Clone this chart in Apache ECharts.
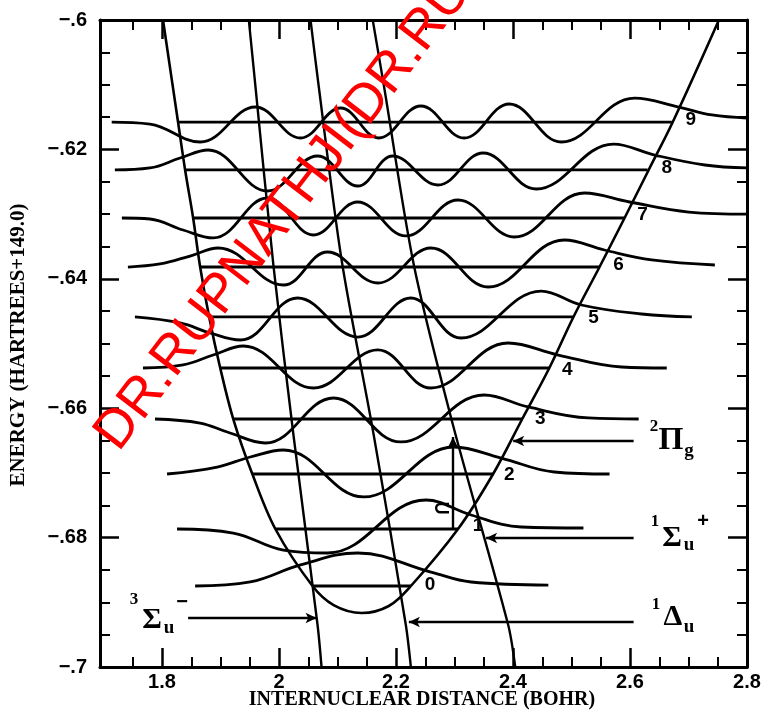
<!DOCTYPE html>
<html><head><meta charset="utf-8">
<script src="https://cdn.jsdelivr.net/npm/echarts@6/dist/echarts.min.js"></script>
<style>html,body{margin:0;padding:0;background:#fff}#c{width:769px;height:721px}</style>
</head><body><div id="c"></div>
<script>
// ---- axis ticks ----
const xTickValues = [1.8, 2.0, 2.2, 2.4, 2.6, 2.8];
const xTickLabels = ['1.8', '2', '2.2', '2.4', '2.6', '2.8'];
const xMinorTicks = [1.75, 1.85, 1.9, 1.95, 2.05, 2.1, 2.15, 2.25, 2.3, 2.35, 2.45, 2.5, 2.55, 2.65, 2.7, 2.75];
const yTickValues = [-0.7, -0.68, -0.66, -0.64, -0.62, -0.6];
const yTickLabels = ['\u2212.7', '\u2212.68', '\u2212.66', '\u2212.64', '\u2212.62', '\u2212.6'];

// ---- vibrational levels v = 0..9 ----
const levelNumbers = ['0', '1', '2', '3', '4', '5', '6', '7', '8', '9'];
const levelEnergy = [-0.68748, -0.67867, -0.67017, -0.66167, -0.65379, -0.64590, -0.63818, -0.63060, -0.62318, -0.61577];
const levelLeftX  = [2.0573, 1.9938, 1.9544, 1.9218, 1.8995, 1.8806, 1.8652, 1.8532, 1.8395, 1.8274];
const levelRightX = [2.2254, 2.3060, 2.3660, 2.4158, 2.4621, 2.5033, 2.5479, 2.5907, 2.6302, 2.6714];
const levelLabelX = [2.2580, 2.3403, 2.3935, 2.4467, 2.4930, 2.5376, 2.5804, 2.6216, 2.6628, 2.7040];
const levelLabelY = [-0.68733, -0.67821, -0.67032, -0.66167, -0.65410, -0.64606, -0.63787, -0.63014, -0.62287, -0.61546];

// ---- potential curve (2Pi_g) ----
const potentialX = [1.8017, 1.8274, 1.8395, 1.8532, 1.8652, 1.8806, 1.8995, 1.9218, 1.9544, 1.9938, 2.0573, 2.0933, 2.1413, 2.1877, 2.2254, 2.3060, 2.3660, 2.4158, 2.4621, 2.5033, 2.5479, 2.5907, 2.6319, 2.6731, 2.7520];
const potentialY = [-0.6, -0.61577, -0.62318, -0.63060, -0.63818, -0.64590, -0.65379, -0.66167, -0.67017, -0.67867, -0.68748, -0.69042, -0.69165, -0.69057, -0.68748, -0.67867, -0.67017, -0.66167, -0.65379, -0.64590, -0.63818, -0.63060, -0.62318, -0.61577, -0.6];

// ---- crossing states ----
const sigma3uX = [1.9484, 1.9595, 1.9904, 2.0247, 2.0659, 2.0727];
const sigma3uY = [-0.6, -0.61005, -0.63787, -0.66414, -0.69351, -0.7];
const delta1uX = [2.0539, 2.0676, 2.1070, 2.1619, 2.2168, 2.2254];
const delta1uY = [-0.6, -0.61005, -0.63709, -0.66414, -0.69351, -0.7];
const sigma1uX = [2.1602, 2.1791, 2.2305, 2.2974, 2.3918, 2.4038];
const sigma1uY = [-0.6, -0.61005, -0.63787, -0.66260, -0.69351, -0.7];

// ---- vibrational wavefunctions [x, energy]: tails and extrema ----
const wave0 = [[1.8566,-0.68748],[1.9509,-0.68686],[2.0367,-0.68423],[2.1345,-0.68238],[2.2597,-0.68532],[2.3283,-0.68686],[2.4604,-0.68733]];
const wave1 = [[1.8257,-0.67867],[1.9218,-0.67929],[2.0075,-0.68192],[2.0830,-0.68238],[2.2511,-0.67419],[2.3283,-0.67651],[2.4141,-0.67836],[2.5204,-0.67852]];
const wave2 = [[1.8086,-0.67017],[1.8943,-0.66909],[1.9509,-0.66754],[2.0075,-0.66646],[2.1448,-0.67372],[2.2991,-0.66600],[2.3798,-0.66770],[2.4707,-0.66986],[2.5650,-0.67017]];
const wave3 = [[1.7880,-0.66167],[1.8652,-0.66229],[1.9115,-0.66368],[1.9767,-0.66538],[2.0933,-0.65842],[2.2082,-0.66522],[2.3506,-0.65796],[2.4261,-0.65981],[2.5290,-0.66151],[2.6148,-0.66167]];
const wave4 = [[1.7674,-0.65379],[1.8360,-0.65332],[1.8875,-0.65178],[1.9389,-0.65039],[2.0590,-0.65688],[2.1688,-0.65100],[2.2597,-0.65688],[2.3918,-0.64992],[2.4775,-0.65178],[2.5856,-0.65363],[2.6628,-0.65379]];
const wave5 = [[1.7537,-0.64590],[1.8309,-0.64683],[1.8823,-0.64838],[1.9338,-0.64946],[2.0316,-0.64297],[2.1345,-0.64900],[2.2254,-0.64297],[2.3111,-0.64915],[2.4484,-0.64189],[2.5170,-0.64405],[2.6199,-0.64544],[2.7057,-0.64590]];
const wave6 = [[1.7417,-0.63818],[1.7966,-0.63771],[1.8480,-0.63648],[1.8961,-0.63524],[2.0075,-0.64096],[2.0830,-0.63586],[2.1688,-0.64065],[2.2597,-0.63524],[2.3575,-0.64127],[2.4878,-0.63400],[2.5564,-0.63555],[2.6371,-0.63709],[2.7451,-0.63787]];
const wave7 = [[1.7314,-0.63060],[1.7794,-0.63076],[1.8360,-0.63246],[1.8875,-0.63369],[1.9801,-0.62751],[2.0590,-0.63323],[2.1345,-0.62813],[2.2168,-0.63338],[2.3060,-0.62782],[2.4021,-0.63354],[2.5221,-0.62674],[2.5993,-0.62813],[2.7005,-0.62968],[2.8,-0.62999]];
const wave8 = [[1.7194,-0.62318],[1.7794,-0.62287],[1.8309,-0.62133],[1.8789,-0.62009],[1.9801,-0.62643],[2.0659,-0.62102],[2.1345,-0.62566],[2.1945,-0.62102],[2.2717,-0.62550],[2.3489,-0.62056],[2.4398,-0.62612],[2.5719,-0.61917],[2.6422,-0.62087],[2.7280,-0.62241],[2.8,-0.62287]];
const wave9 = [[1.7140,-0.61577],[1.7794,-0.61608],[1.8652,-0.61886],[1.9595,-0.61345],[2.0367,-0.61824],[2.1053,-0.61360],[2.1705,-0.61824],[2.2425,-0.61329],[2.3163,-0.61824],[2.3935,-0.61298],[2.4827,-0.61886],[2.6079,-0.61206],[2.6834,-0.61345],[2.7400,-0.61468],[2.8,-0.61515]];
const waves = [wave0, wave1, wave2, wave3, wave4, wave5, wave6, wave7, wave8, wave9];

// ---- annotation arrows [x1, y1, x2, y2] (arrow head at the second point) ----
const arrowPiG   = [2.6062, -0.66507, 2.4003, -0.66507];
const arrowSigU  = [2.6062, -0.68006, 2.3540, -0.68006];
const arrowDelU  = [2.6062, -0.69304, 2.2220, -0.69304];
const arrowSig3U = [1.8446, -0.69243, 2.0642, -0.69243];
const arrowVert  = [2.2974, -0.67852, 2.2974, -0.66445];

const K = '#000';
const pairs = (xs, ys) => xs.map((x, i) => [x, ys[i]]);
const series = [];
series.push({type:'line', data: pairs(potentialX, potentialY), smooth: 0.35, symbol:'none', lineStyle:{color:K, width:2.6}, z:3});
[[sigma3uX, sigma3uY], [delta1uX, delta1uY], [sigma1uX, sigma1uY]].forEach(([xs, ys]) => {
  series.push({type:'line', data: pairs(xs, ys), smooth: 0.3, symbol:'none', lineStyle:{color:K, width:2.4}, z:3});
});
levelEnergy.forEach((e, i) => {
  series.push({type:'line', data: [[levelLeftX[i], e], [levelRightX[i], e]], symbol:'none', lineStyle:{color:K, width:2.8}, z:3});
});
waves.forEach(w => {
  series.push({type:'line', data: w, smooth: 0.4, symbol:'none', lineStyle:{color:K, width:2.8}, z:4});
});
series.push({
  type:'scatter', data: levelNumbers.map((n, i) => [levelLabelX[i], levelLabelY[i], n]),
  symbol:'circle', symbolSize: 0.1, itemStyle:{color:'transparent', opacity:1}, z:5,
  label:{show:true, position:'inside', formatter: p => p.data[2], color:K, opacity:1, textBorderWidth:0, textBorderColor:'transparent',
    fontSize:19, fontWeight:'bold', fontFamily:'Liberation Sans'}
});
const arrowLines = [arrowPiG, arrowSigU, arrowDelU, arrowSig3U, arrowVert].map(a => [{coord:[a[0], a[1]]}, {coord:[a[2], a[3]]}]);
series.push({
  type:'line', data: [[2.0, -0.65]], symbol:'none', lineStyle:{opacity:0}, z:5,
  markLine:{silent:true, animation:false, symbol:['none','arrow'], symbolSize:[8, 11], label:{show:false},
    lineStyle:{color:K, width:2.4, type:'solid'}, data: arrowLines}
});

const axisCommon = {type:'value', min:1.694, max:2.8, splitLine:{show:false}};
const lbl = (vals, labs) => (v) => { const i = vals.findIndex(t => Math.abs(t - v) < 1e-6); return i >= 0 ? labs[i] : ''; };
const option = {
  animation: false,
  backgroundColor: '#fff',
  grid: {left:100, right:22, top:20, bottom:54, containLabel:false},
  xAxis: [
    Object.assign({}, axisCommon, {position:'bottom', axisLine:{show:true, lineStyle:{color:K, width:3}},
      axisTick:{show:true, inside:true, length:10, lineStyle:{color:K, width:2}, customValues: xMinorTicks},
      axisLabel:{show:false}}),
    Object.assign({}, axisCommon, {position:'bottom', axisLine:{show:false},
      axisTick:{show:true, inside:true, length:19, lineStyle:{color:K, width:2.5}, customValues: xTickValues},
      axisLabel:{show:true, customValues: xTickValues, formatter: lbl(xTickValues, xTickLabels), color:K, fontSize:20, fontWeight:'bold', fontFamily:'Liberation Sans', margin:5}}),
    Object.assign({}, axisCommon, {position:'top', axisLine:{show:true, lineStyle:{color:K, width:3}},
      axisTick:{show:true, inside:true, length:10, lineStyle:{color:K, width:2}, customValues: xMinorTicks},
      axisLabel:{show:false}}),
    Object.assign({}, axisCommon, {position:'top', axisLine:{show:false},
      axisTick:{show:true, inside:true, length:19, lineStyle:{color:K, width:2.5}, customValues: xTickValues},
      axisLabel:{show:false}})
  ],
  yAxis: [
    {type:'value', min:-0.7, max:-0.6, interval:0.02, position:'left', splitLine:{show:false},
      axisLine:{show:true, lineStyle:{color:K, width:3}},
      axisTick:{show:true, inside:true, length:19, lineStyle:{color:K, width:2.5}},
      minorTick:{show:true, splitNumber:4, length:10, lineStyle:{color:K, width:2}},
      axisLabel:{show:true, formatter: lbl(yTickValues, yTickLabels), color:K, fontSize:20, fontWeight:'bold', fontFamily:'Liberation Sans', margin:13}},
    {type:'value', min:-0.7, max:-0.6, interval:0.02, position:'right', splitLine:{show:false},
      axisLine:{show:true, lineStyle:{color:K, width:3}},
      axisTick:{show:true, inside:true, length:19, lineStyle:{color:K, width:2.5}},
      minorTick:{show:true, splitNumber:4, length:10, lineStyle:{color:K, width:2}},
      axisLabel:{show:false}}
  ],
  series: series.map(s => Object.assign({xAxisIndex:0, yAxisIndex:0, silent:true}, s)),
  graphic: []
};

const T = (text, x, y, size, family, extra) => Object.assign({type:'text', x:x, y:y, z:50, silent:true,
  style:{text:text, fill:K, fontSize:size, fontWeight:'bold', fontFamily: family || 'Liberation Serif', align:'center', verticalAlign:'middle'}}, extra || {});
option.graphic = [
  T('INTERNUCLEAR DISTANCE (BOHR)', 422, 700, 20),
  T('ENERGY (HARTREES+149.0)', 19, 345, 21, null, {rotation: Math.PI / 2}),
  // 2Pi_g
  T('2', 654, 427, 17), T('\u03A0', 671, 441, 32), T('g', 689, 451, 19),
  // 1Sigma_u+
  T('1', 655, 522, 17), T('\u03A3', 672, 538, 30), T('u', 689, 545, 19), T('+', 703, 521, 20, 'Liberation Sans'),
  // 1Delta_u
  T('1', 656, 605, 17), T('\u0394', 673, 617, 30), T('u', 689, 627, 19),
  // 3Sigma_u-
  T('3', 134, 600, 17), T('\u03A3', 152, 620, 30), T('u', 169, 628, 19), T('\u2212', 182, 602, 20, 'Liberation Sans'),
  // hook on vertical arrow
  T('\u2282', 442, 509, 22, 'DejaVu Sans'),
  // watermark
  {type:'text', x:128, y:460, rotation: 52.5 * Math.PI / 180, z:100, silent:true,
   style:{text:'DR.RUPNATHJI(DR.RUPNATHJI(', fill:'#ff0000', fontSize:54, fontFamily:'Liberation Sans', align:'left', verticalAlign:'bottom'}}
];

const chart = echarts.init(document.getElementById('c'), null, {renderer:'canvas'});
chart.setOption(option);
</script>
</body></html>
